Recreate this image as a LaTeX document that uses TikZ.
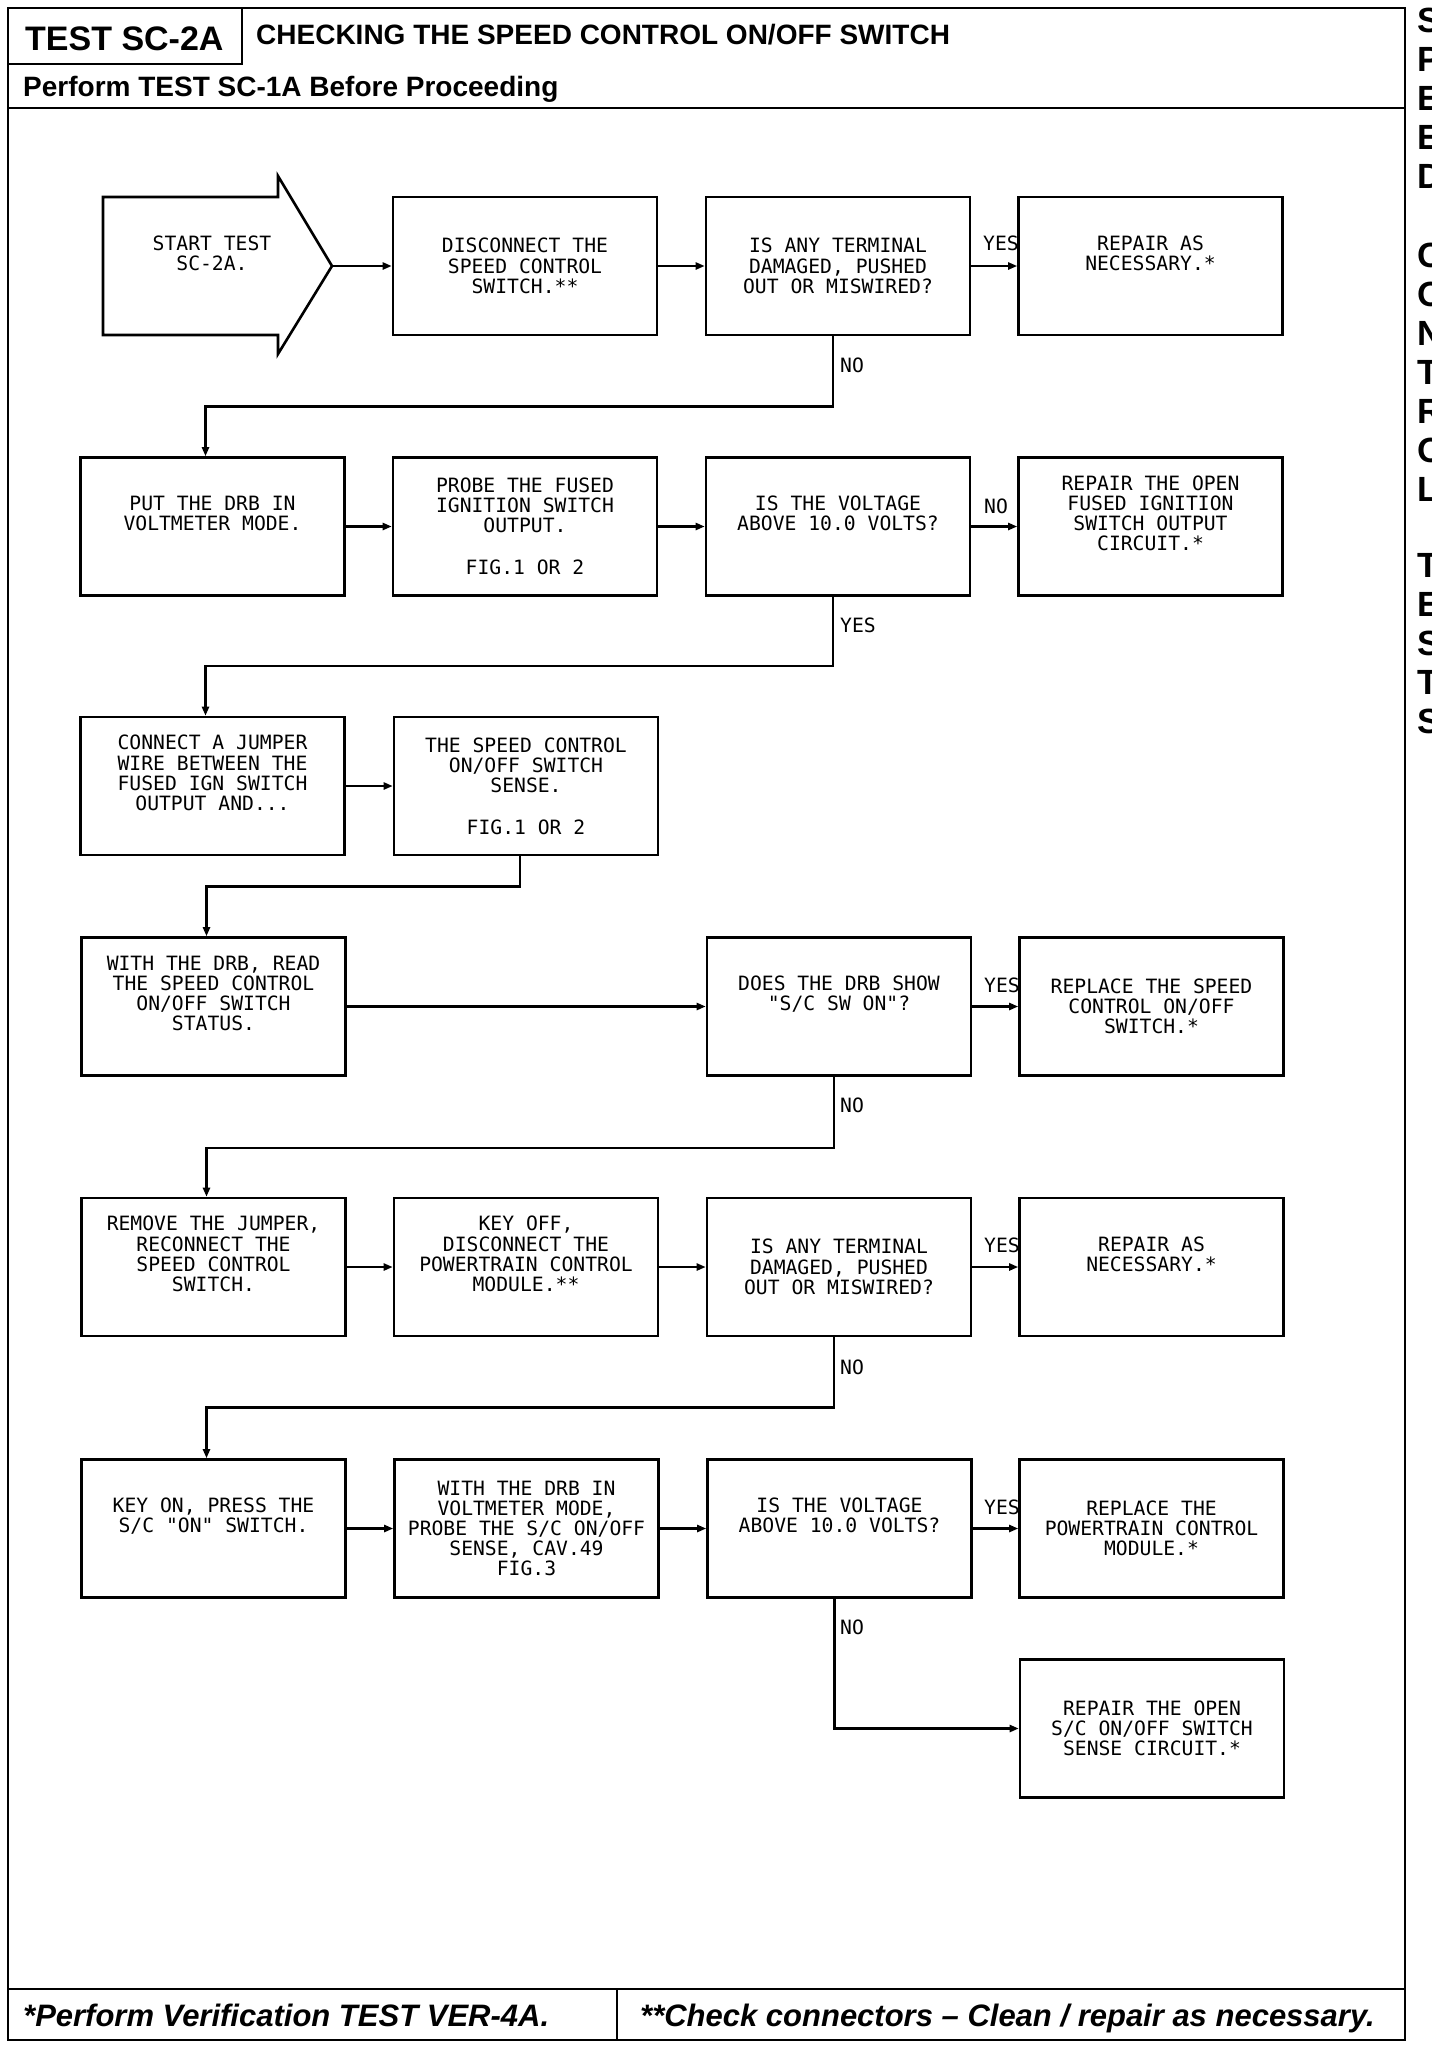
\documentclass[tikz,border=0pt]{standalone}
\usepackage{fontspec}
\usetikzlibrary{arrows.meta,calc}
\newfontfamily\plotfont{DejaVu Sans Mono}
\newfontfamily\hdfont{Liberation Sans}
\begin{document}
\begin{tikzpicture}[x=1pt,y=-1pt,
  box/.style={draw,line width=2.6pt,minimum width=264pt,minimum height=138pt,inner sep=0pt,align=center,
    font=\plotfont\fontsize{19.7pt}{20.2pt}\selectfont},
  txt/.style={inner sep=0pt,align=center,font=\plotfont\fontsize{19.7pt}{20.2pt}\selectfont},
  lbl/.style={inner sep=0pt,anchor=west,font=\plotfont\fontsize{19.7pt}{20.2pt}\selectfont},
  conn/.style={line width=2.4pt,-{Triangle[length=9pt,width=7pt]}},
  frame/.style={line width=2.6pt},
  sidelet/.style={inner sep=0pt,anchor=west,font=\hdfont\bfseries\fontsize{35pt}{35pt}\selectfont}
]
\useasboundingbox (0,0) rectangle (1440,2048);
\fill[white] (0,0) rectangle (1440,2048);

% frame and header
\draw[frame] (8,8) rectangle (1405,2040);
\draw[frame] (8,108) -- (1405,108);
\draw[frame] (242,8) -- (242,64) -- (8,64);
\draw[frame] (8,1989) -- (1405,1989);
\draw[frame] (617,1989) -- (617,2040);

\node[inner sep=0pt,anchor=base west,font=\hdfont\bfseries\fontsize{34pt}{34pt}\selectfont] (title) at (25,50) {TEST SC-2A};
\node[inner sep=0pt,anchor=base west,font=\hdfont\bfseries\fontsize{28pt}{28pt}\selectfont] (subject) at (256,44) {CHECKING THE SPEED CONTROL ON/OFF SWITCH};
\node[inner sep=0pt,anchor=base west,font=\hdfont\bfseries\fontsize{28pt}{28pt}\selectfont] (pre) at (23,96) {Perform TEST SC-1A Before Proceeding};
\node[inner sep=0pt,anchor=base west,font=\hdfont\bfseries\itshape\fontsize{31pt}{31pt}\selectfont] (foot1) at (23,2026) {*Perform Verification TEST VER-4A.};
\node[inner sep=0pt,anchor=base west,font=\hdfont\bfseries\itshape\fontsize{31pt}{31pt}\selectfont] (foot2) at (640,2026) {**Check connectors – Clean / repair as necessary.};

% side tab letters (cut at the edge)
\begin{scope}
\clip (1408,0) rectangle (1431,2048);
\foreach \l/\yy [count=\i] in {S/20,P/59,E/98,E/137,D/176,C/255,O/294,N/333,T/372,R/411,O/450,L/489,T/565,E/604,S/643,T/682,S/721}{
  \node[sidelet] (side\i) at (1417,\yy) {\l};
}
\end{scope}

% start arrow
\draw[line width=2.6pt,line join=miter] (103,197) -- (278,197) -- (278,176) -- (332,266) -- (278,354) -- (278,335) -- (103,335) -- cycle;
\coordinate (tip) at (332,266);
\node[txt] (start) at (212,266) {START TEST\\SC-2A.\\\strut};

% row 1
\node[box] (dis) at (525,266) {DISCONNECT THE\\SPEED CONTROL\\SWITCH.**};
\node[box] (q1) at (838,266) {IS ANY TERMINAL\\DAMAGED, PUSHED\\OUT OR MISWIRED?};
\node[box] (rep1) at (1150.5,266) {REPAIR AS\\NECESSARY.*\\\strut};
% row 2
\node[box] (put) at (212.5,526.5) {PUT THE DRB IN\\VOLTMETER MODE.\\\strut};
\node[box] (probe) at (525,526.5) {PROBE THE FUSED\\IGNITION SWITCH\\OUTPUT.\\\strut\\FIG.1 OR 2};
\node[box] (q2) at (838,526.5) {IS THE VOLTAGE\\ABOVE 10.0 VOLTS?\\\strut};
\node[box] (rep2) at (1150.5,526.5) {REPAIR THE OPEN\\FUSED IGNITION\\SWITCH OUTPUT\\CIRCUIT.*\\\strut};
% row 3
\node[box] (jump) at (212.5,786) {CONNECT A JUMPER\\WIRE BETWEEN THE\\FUSED IGN SWITCH\\OUTPUT AND...\\\strut};
\node[box] (sense) at (526,786) {THE SPEED CONTROL\\ON/OFF SWITCH\\SENSE.\\\strut\\FIG.1 OR 2};
% row 4
\node[box] (read) at (213.5,1006.5) {WITH THE DRB, READ\\THE SPEED CONTROL\\ON/OFF SWITCH\\STATUS.\\\strut};
\node[box] (q3) at (839,1006.5) {DOES THE DRB SHOW\\"S/C SW ON"?\\\strut};
\node[box] (rep3) at (1151.5,1006.5) {REPLACE THE SPEED\\CONTROL ON/OFF\\SWITCH.*};
% row 5
\node[box] (rem) at (213.5,1267) {REMOVE THE JUMPER,\\RECONNECT THE\\SPEED CONTROL\\SWITCH.\\\strut};
\node[box] (keyoff) at (526,1267) {KEY OFF,\\DISCONNECT THE\\POWERTRAIN CONTROL\\MODULE.**\\\strut};
\node[box] (q4) at (839,1267) {IS ANY TERMINAL\\DAMAGED, PUSHED\\OUT OR MISWIRED?};
\node[box] (rep4) at (1151.5,1267) {REPAIR AS\\NECESSARY.*\\\strut};
% row 6
\node[box] (keyon) at (213.5,1528.5) {KEY ON, PRESS THE\\S/C "ON" SWITCH.\\\strut};
\node[box] (probe2) at (526.5,1528.5) {WITH THE DRB IN\\VOLTMETER MODE,\\PROBE THE S/C ON/OFF\\SENSE, CAV.49\\FIG.3};
\node[box] (q5) at (839.5,1528.5) {IS THE VOLTAGE\\ABOVE 10.0 VOLTS?\\\strut};
\node[box] (rep5) at (1151.5,1528.5) {REPLACE THE\\POWERTRAIN CONTROL\\MODULE.*};
% row 7
\node[box] (rep6) at (1152,1728.5) {REPAIR THE OPEN\\S/C ON/OFF SWITCH\\SENSE CIRCUIT.*};

% connectors
\draw[conn] (tip) -- (dis.west);
\draw[conn] (dis.east) -- (q1.west);
\draw[conn] (q1.east) -- (rep1.west);
\draw[conn] ([xshift=-5pt]q1.south) -- ++(0,70) -| ([xshift=-7pt]put.north);
\draw[conn] (put.east) -- (probe.west);
\draw[conn] (probe.east) -- (q2.west);
\draw[conn] (q2.east) -- (rep2.west);
\draw[conn] ([xshift=-5pt]q2.south) -- ++(0,69) -| ([xshift=-7pt]jump.north);
\draw[conn] (jump.east) -- (sense.west);
\draw[conn] ([xshift=-6pt]sense.south) -- ++(0,30) -| ([xshift=-7pt]read.north);
\draw[conn] (read.east) -- (q3.west);
\draw[conn] (q3.east) -- (rep3.west);
\draw[conn] ([xshift=-5pt]q3.south) -- ++(0,71) -| ([xshift=-7pt]rem.north);
\draw[conn] (rem.east) -- (keyoff.west);
\draw[conn] (keyoff.east) -- (q4.west);
\draw[conn] (q4.east) -- (rep4.west);
\draw[conn] ([xshift=-5pt]q4.south) -- ++(0,70) -| ([xshift=-7pt]keyon.north);
\draw[conn] (keyon.east) -- (probe2.west);
\draw[conn] (probe2.east) -- (q5.west);
\draw[conn] (q5.east) -- (rep5.west);
\draw[conn] ([xshift=-5pt]q5.south) |- (rep6.west);

% branch labels
\node[lbl] (y1) at (983,243) {YES};
\node[lbl] (n1) at (840,365) {NO};
\node[lbl] (n2) at (984,506) {NO};
\node[lbl] (y2) at (840,625) {YES};
\node[lbl] (y4) at (984,985) {YES};
\node[lbl] (n4) at (840,1105) {NO};
\node[lbl] (y5) at (984,1245) {YES};
\node[lbl] (n5) at (840,1367) {NO};
\node[lbl] (y6) at (984,1507) {YES};
\node[lbl] (n6) at (840,1627) {NO};
\end{tikzpicture}
\end{document}
